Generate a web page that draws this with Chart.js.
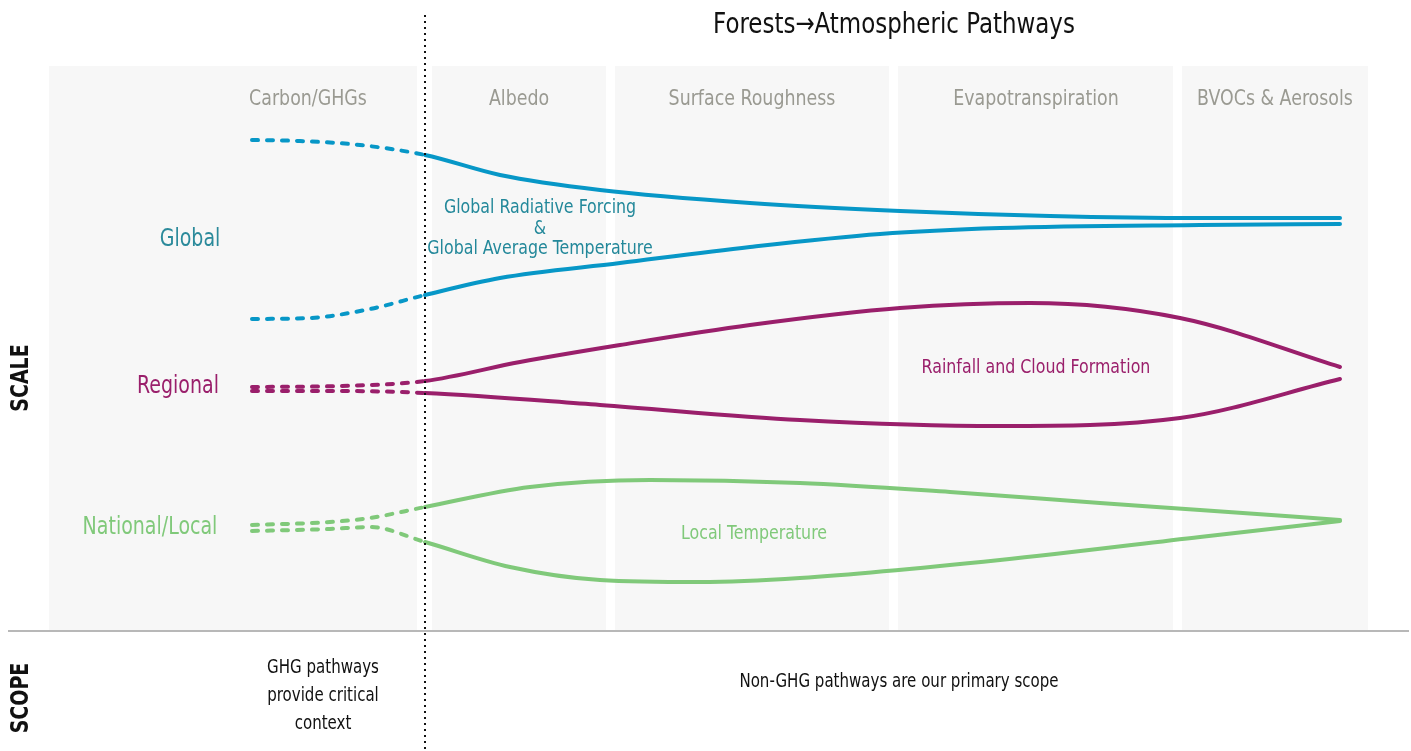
<!DOCTYPE html>
<html>
<head>
<meta charset="utf-8">
<script src="https://cdn.jsdelivr.net/npm/chart.js@4.4.1/dist/chart.umd.min.js"></script>
<style>
  html, body { margin: 0; padding: 0; background: #fff; }
  #wrap { width: 1411px; height: 751px; }
</style>
</head>
<body>
<div id="wrap"><canvas id="myChart" width="1411" height="751"></canvas></div>
<script>
// pathway columns (x ranges in diagram units) and their headers
const pathways = ['Carbon/GHGs', 'Albedo', 'Surface Roughness', 'Evapotranspiration', 'BVOCs & Aerosols'];
const pathwayStart = [49, 432, 615, 898, 1182];
const pathwayEnd = [417, 606, 889, 1173, 1368];
const headerX = [308, 519, 752, 1036, 1275];

const scaleLevels = ['Global', 'Regional', 'National/Local'];
const scaleLevelY = [238, 385, 526];
const ghgBoundary = 425;

// curve points (x = along pathways, y = down the scale)
const globalUpperX = [252, 300, 360, 425, 500, 600, 750, 900, 1050, 1200, 1340];
const globalUpperY = [140, 141, 145, 155, 175, 190, 203, 211, 216, 218, 218];
const globalLowerX = [252, 310, 370, 425, 500, 620, 750, 880, 1000, 1200, 1340];
const globalLowerY = [319, 318, 309, 295, 278, 263, 247, 234, 228, 225, 224];
const regionalUpperX = [252, 340, 425, 520, 620, 750, 900, 1030, 1180, 1340];
const regionalUpperY = [387, 386, 381, 362, 345, 325, 308, 303, 318, 367];
const regionalLowerX = [252, 340, 425, 600, 800, 1000, 1180, 1340];
const regionalLowerY = [391, 391, 393, 405, 420, 426, 418, 379];
const localUpperX = [252, 330, 370, 425, 530, 650, 800, 950, 1100, 1200, 1340];
const localUpperY = [525, 522, 518, 507, 487, 480, 483, 492, 503, 510, 520];
const localLowerX = [252, 330, 370, 425, 510, 600, 700, 800, 1000, 1200, 1340];
const localLowerY = [531, 529, 527, 542, 567, 580, 582, 578, 560, 537, 521];

const blue = '#0797c7';
const purple = '#9a1f6b';
const green = '#80c97a';

const pts = (xs, ys) => xs.map((x, i) => ({ x: x, y: ys[i] }));

function curve(xs, ys, color) {
  return {
    data: pts(xs, ys),
    borderColor: color,
    borderWidth: 4,
    pointRadius: 0,
    tension: 0.4,
    cubicInterpolationMode: 'monotone',
    showLine: true,
    segment: {
      borderDash: c => c.p1.parsed.x <= ghgBoundary ? [6, 9] : undefined
    }
  };
}

const FONT = '"DejaVu Sans Condensed", "DejaVu Sans", sans-serif';
const SQUEEZE = 0.88;

// draw condensed text: the reference uses a narrow face
function narrowText(ctx, text, px, py, rotate) {
  ctx.save();
  ctx.translate(px, py);
  if (rotate) ctx.rotate(rotate);
  ctx.scale(SQUEEZE, 1);
  ctx.fillText(text, 0, rotate ? 0 : 2);
  ctx.restore();
}

const decor = {
  id: 'decor',
  beforeDatasetsDraw(chart) {
    const { ctx, scales: { x, y } } = chart;
    ctx.save();
    // panels
    ctx.fillStyle = '#f7f7f7';
    pathways.forEach((p, i) => {
      const x0 = x.getPixelForValue(pathwayStart[i]);
      const x1 = x.getPixelForValue(pathwayEnd[i]);
      const y0 = y.getPixelForValue(66);
      const y1 = y.getPixelForValue(630);
      ctx.fillRect(x0, y0, x1 - x0, y1 - y0);
    });
    // headers
    ctx.fillStyle = '#9a9a92';
    ctx.font = '22px ' + FONT;
    ctx.textAlign = 'center';
    ctx.textBaseline = 'middle';
    pathways.forEach((p, i) => {
      narrowText(ctx, p, x.getPixelForValue(headerX[i]), y.getPixelForValue(97));
    });
    // scope divider
    ctx.strokeStyle = '#a0a0a0';
    ctx.lineWidth = 1.5;
    ctx.beginPath();
    ctx.moveTo(x.getPixelForValue(8), y.getPixelForValue(631));
    ctx.lineTo(x.getPixelForValue(1409), y.getPixelForValue(631));
    ctx.stroke();
    ctx.restore();
  },
  afterDatasetsDraw(chart) {
    const { ctx, scales: { x, y } } = chart;
    ctx.save();
    // dotted GHG boundary
    ctx.strokeStyle = '#111';
    ctx.lineWidth = 2;
    ctx.setLineDash([2, 4]);
    ctx.beginPath();
    ctx.moveTo(x.getPixelForValue(ghgBoundary), y.getPixelForValue(15));
    ctx.lineTo(x.getPixelForValue(ghgBoundary), y.getPixelForValue(751));
    ctx.stroke();
    ctx.setLineDash([]);

    ctx.textAlign = 'center';
    ctx.textBaseline = 'middle';
    // title
    ctx.fillStyle = '#111';
    ctx.font = '29px ' + FONT;
    narrowText(ctx, 'Forests\u2192Atmospheric Pathways', x.getPixelForValue(894), y.getPixelForValue(23));

    // scale level labels
    const levelColors = ['#2b8a9b', purple, green];
    const levelX = [190, 178, 150];
    ctx.font = '24px ' + FONT;
    scaleLevels.forEach((s, i) => {
      ctx.fillStyle = levelColors[i];
      narrowText(ctx, s, x.getPixelForValue(levelX[i]), y.getPixelForValue(scaleLevelY[i]));
    });

    // pathway effect labels
    ctx.font = '20px ' + FONT;
    ctx.fillStyle = '#23889a';
    narrowText(ctx, 'Global Radiative Forcing', x.getPixelForValue(540), y.getPixelForValue(206));
    narrowText(ctx, '&', x.getPixelForValue(540), y.getPixelForValue(227));
    narrowText(ctx, 'Global Average Temperature', x.getPixelForValue(540), y.getPixelForValue(247));
    ctx.fillStyle = purple;
    narrowText(ctx, 'Rainfall and Cloud Formation', x.getPixelForValue(1036), y.getPixelForValue(366));
    ctx.fillStyle = green;
    narrowText(ctx, 'Local Temperature', x.getPixelForValue(754), y.getPixelForValue(532));

    // scope texts
    ctx.fillStyle = '#111';
    ctx.font = '19px ' + FONT;
    ['GHG pathways', 'provide critical', 'context'].forEach((t, i) => {
      narrowText(ctx, t, x.getPixelForValue(323), y.getPixelForValue(666 + i * 28));
    });
    narrowText(ctx, 'Non-GHG pathways are our primary scope', x.getPixelForValue(899), y.getPixelForValue(680));

    // rotated axis titles
    ctx.font = 'bold 24px ' + FONT;
    [['SCALE', 378], ['SCOPE', 698]].forEach(([t, yy]) => {
      narrowText(ctx, t, x.getPixelForValue(22), y.getPixelForValue(yy), -Math.PI / 2);
    });
    ctx.restore();
  }
};

document.addEventListener('DOMContentLoaded', () => {
  const ctx = document.getElementById('myChart').getContext('2d');
  new Chart(ctx, {
    type: 'scatter',
    data: {
      datasets: [
        curve(globalUpperX, globalUpperY, blue),
        curve(globalLowerX, globalLowerY, blue),
        curve(regionalUpperX, regionalUpperY, purple),
        curve(regionalLowerX, regionalLowerY, purple),
        curve(localUpperX, localUpperY, green),
        curve(localLowerX, localLowerY, green)
      ]
    },
    options: {
      responsive: false,
      animation: false,
      layout: { padding: 0 },
      plugins: { legend: { display: false }, tooltip: { enabled: false } },
      elements: { line: { borderCapStyle: 'round' } },
      scales: {
        x: { type: 'linear', min: 0, max: 1411, display: false },
        y: { type: 'linear', min: 0, max: 751, reverse: true, display: false }
      }
    },
    plugins: [decor]
  });
});
</script>
</body>
</html>
